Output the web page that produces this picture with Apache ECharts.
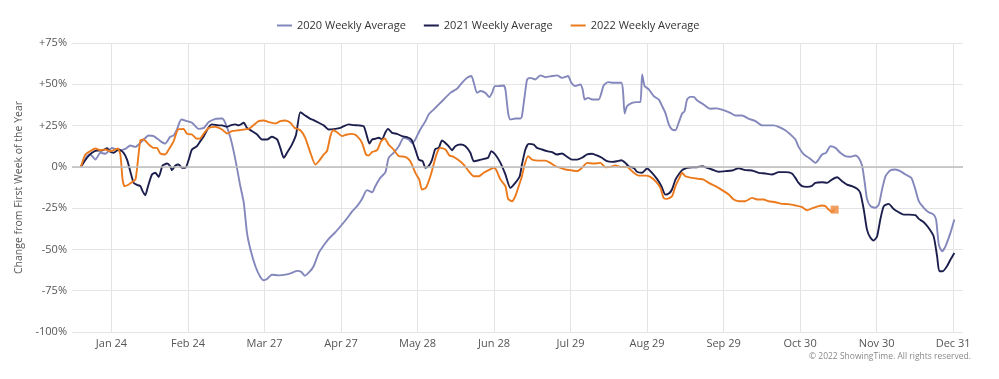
<!DOCTYPE html>
<html><head><meta charset="utf-8">
<script src="https://cdn.jsdelivr.net/npm/echarts@6/dist/echarts.min.js"></script>
<style>html,body{margin:0;padding:0;background:#fff}#c{width:999px;height:379px}</style>
</head><body><div id="c"></div>
<script>
const tickDays = [24,55,86,117,148,179,210,241,272,303,334,365];
const tickLabels = ['Jan 24','Feb 24','Mar 27','Apr 27','May 28','Jun 28','Jul 29','Aug 29','Sep 29','Oct 30','Nov 30','Dec 31'];
const seriesNames = ['2020 Weekly Average','2021 Weekly Average','2022 Weekly Average'];

const days2020 = [11.6,14.1,15.4,17.5,19.5,21.5,24.2,26.9,29.6,31.6,33.7,36.4,39.1,41.1,43.8,45.8,47.8,49.2,50.5,52.3,54.6,56.6,59.3,61.4,63.4,66.1,
68.8,70.1,72.2,74.2,76.2,77.6,78.9,80.3,82.3,84.3,85.7,87.0,89.0,91.7,95.1,97.1,99.2,100.9,102.3,104.2,105.9,108.0,110.0,112.0,114.7,117.4,119.4,121.5,123.5,125.5,127.5,
129.6,130.9,132.9,135.0,136.3,138.3,140.4,142.4,144.4,145.8,147.1,149.1,151.2,152.5,154.5,156.6,158.6,161.3,164.0,166.0,168.1,169.8,170.8,172.1,173.5,175.5,177.1,178.2,179.3,180.9,182.9,183.6,184.7,185.6,187.6,189.7,
190.3,191.4,192.4,193.7,195.7,197.8,199.8,202.5,204.5,206.5,209.0,210.3,211.9,214.0,214.9,215.7,217.1,218.7,221.4,222.5,223.4,225.2,227.5,230.6,231.3,231.9,232.9,234.9,236.9,238.3,239.0,240.0,241.7,243.7,245.7,247.1,248.4,249.8,
251.1,252.5,253.8,255.2,256.2,257.2,258.5,259.9,261.2,263.9,266.6,269.3,272.0,274.7,276.8,279.5,282.2,284.9,287.6,289.6,292.3,294.3,297.0,299.1,301.1,302.4,304.5,306.5,307.8,309.2,310.5,311.9,
313.5,315.3,317.3,319.3,321.3,323.4,325.4,326.7,328.1,329.2,330.1,331.5,333.5,334.9,336.2,337.6,339.6,341.6,343.6,345.7,348.1,349.7,351.1,353.1,355.1,357.1,358.1,359.2,360.5,361.9,363.9,365.5];
const vals2020 = [0,6.5,7.5,4.4,8.5,7.9,11.5,9.9,10.9,12.9,12.1,15.6,19.0,18.6,15.6,14.1,18.2,19.0,22.6,28.7,27.7,26.7,23.0,23.6,27.1,29.1,
29.3,26.7,17.6,4.4,-11.7,-21.8,-40.0,-50.1,-60.2,-66.7,-68.7,-67.9,-65.3,-65.7,-65.1,-64.2,-63.0,-63.6,-65.9,-63.6,-60.2,-52.1,-47.5,-43.6,-39.6,-34.9,-31.3,-26.9,-23.8,-19.4,-14.1,
-15.4,-11.7,-6.7,-3.2,5.5,8.5,12.5,17.6,16.6,14.5,16.6,22.6,27.7,31.7,34.7,37.8,40.8,44.8,47.3,50.9,53.9,55.0,50.9,44.8,45.9,44.8,42.2,44.8,48.9,48.9,49.3,46.9,32.7,28.7,29.3,29.3,
30.7,42.8,52.9,53.9,52.9,55.4,54.3,55.0,55.4,53.9,55.0,50.9,48.9,49.9,46.9,40.8,41.8,40.8,40.8,44.8,49.3,51.3,50.9,50.9,44.8,32.3,36.8,38.8,39.2,39.2,56.0,48.9,46.9,42.8,40.8,36.8,32.7,25.7,
22.6,22.2,26.7,32.3,33.7,40.8,42.4,42.4,40.4,37.8,35.2,35.4,34.3,32.7,31.1,31.1,29.1,27.7,25.1,25.1,25.1,24.2,22.2,19.6,16.6,12.1,7.5,5.5,4.0,2.4,4.4,7.5,
8.5,12.5,11.5,8.5,6.5,6.1,6.9,5.5,0.8,-9.7,-19.4,-23.8,-24.8,-22.8,-13.7,-5.7,-2.0,-1.6,-2.6,-4.6,-6.7,-13.7,-20.8,-24.8,-27.5,-28.9,-31.9,-47.1,-51.1,-48.1,-40.0,-31.9];

const days2021 = [11.6,14.1,16.1,18.1,20.2,22.2,23.5,24.9,26.9,28.9,30.3,31.6,33.0,34.3,35.7,36.6,37.7,38.8,40.4,41.8,43.1,44.7,46.5,47.8,48.5,49.9,51.2,52.6,53.9,55.3,56.6,58.6,60.0,61.4,63.4,64.7,67.4,
68.8,70.8,72.2,74.2,75.5,77.6,78.9,81.0,83.0,85.0,87.0,89.0,91.1,92.4,93.8,95.1,97.1,98.8,100.5,102.5,104.6,105.9,108.0,110.0,112.0,114.7,116.7,118.1,120.1,122.1,124.2,126.2,127.5,128.5,
129.6,130.9,132.3,133.6,135.0,136.0,137.7,139.7,141.7,143.7,145.5,147.1,148.5,150.1,151.2,152.5,153.9,155.2,156.6,157.9,159.3,160.6,162.0,163.3,165.4,167.4,169.4,170.8,172.8,174.8,176.6,177.9,179.5,181.6,183.6,185.6,187.6,189.4,
190.3,191.7,193.0,195.1,196.4,198.4,200.5,202.5,204.5,206.5,208.6,210.6,212.6,214.6,216.7,218.7,220.7,222.7,224.8,226.8,228.8,230.6,232.2,233.5,235.6,236.9,238.9,241.0,243.0,245.0,246.8,248.4,249.8,
251.1,252.5,253.8,255.2,256.2,257.2,259.2,261.2,263.3,265.3,267.3,270.0,272.7,275.4,278.1,280.8,283.5,286.2,288.9,291.6,294.3,297.0,299.7,301.1,302.4,303.8,305.8,307.6,309.2,311.9,
313.9,315.9,318.0,320.0,322.0,324.0,326.1,327.4,328.8,330.1,331.5,332.8,334.2,335.5,336.9,338.9,340.9,343.0,345.0,347.0,349.7,351.1,353.1,355.1,357.1,358.5,359.4,360.8,362.5,363.9,365.5];
const vals2021 = [0,5.5,8.5,9.9,9.9,11.3,9.1,8.5,10.5,8.5,4.4,-2.6,-9.7,-10.9,-11.7,-14.7,-17.2,-11.7,-4.6,-3.6,-6.1,0.8,2.0,0.4,-2.0,0.8,1.4,-0.6,-0.6,4.4,10.5,12.5,15.6,18.6,24.0,25.7,25.1,
25.1,24.2,25.1,25.7,25.1,26.7,23.6,21.6,19.6,16.6,16.6,18.2,16.6,11.5,5.5,8.5,13.5,19.6,33.1,31.1,29.1,28.3,26.7,25.1,22.6,23.0,23.6,24.6,25.7,25.3,25.1,24.6,18.6,14.1,
16.6,17.0,17.6,16.6,21.0,23.0,20.6,20.0,18.6,18.0,16.6,10.5,4.4,3.4,-0.6,0.4,4.4,10.9,11.5,16.0,14.5,12.5,10.1,12.5,13.5,12.5,8.5,3.4,4.0,4.8,5.5,9.5,7.5,2.4,-4.6,-12.7,-9.7,-5.7,
1.4,10.5,13.9,13.5,11.5,10.5,9.5,8.9,7.5,8.1,6.1,4.4,4.4,5.5,7.5,7.9,6.9,5.5,3.4,3.0,3.4,4.0,2.4,0.4,-0.6,-3.0,-3.6,-1.0,-3.6,-7.3,-11.7,-16.8,-16.2,
-13.7,-7.7,-4.6,-2.0,-1.2,-0.6,-0.2,-0.2,0.4,-0.6,-1.6,-3.0,-2.6,-2.2,-0.8,-2.0,-2.2,-3.6,-4.0,-4.6,-3.2,-3.2,-4.0,-6.7,-9.7,-11.7,-12.1,-11.7,-9.7,-9.3,
-9.7,-7.7,-6.3,-8.7,-10.7,-11.7,-13.3,-15.8,-25.9,-38.0,-43.0,-44.6,-42.0,-31.9,-23.8,-22.4,-25.5,-27.5,-28.9,-28.9,-29.3,-31.5,-33.5,-37.0,-42.0,-54.1,-63.2,-63.2,-60.2,-56.2,-52.1];

const days2022 = [11.6,13.4,15.4,17.5,19.5,21.5,23.5,25.6,26.6,27.6,28.5,29.3,31.0,32.3,33.7,34.6,35.7,37.0,39.1,41.1,42.4,43.8,45.8,47.2,49.2,50.9,53.2,54.6,56.6,58.6,60.0,61.4,63.4,66.1,
68.8,70.8,72.8,75.5,77.6,79.6,81.6,83.6,85.7,87.7,90.4,92.4,94.4,96.5,98.2,100.5,102.5,104.6,106.6,108.0,110.0,111.3,112.7,113.8,115.4,117.4,119.4,121.5,123.5,125.5,127.1,128.2,
129.6,131.6,133.3,134.7,136.3,138.3,140.4,143.1,145.1,147.1,148.7,149.8,151.4,153.2,154.5,155.9,157.2,159.3,160.9,162.6,164.7,166.7,168.7,170.8,172.8,174.8,176.8,178.9,179.8,181.6,183.6,184.7,186.3,187.6,189.0,
190.3,191.4,192.8,194.4,197.1,199.8,201.8,203.8,205.9,207.9,209.9,212.6,214.6,216.7,219.4,222.1,224.1,226.1,228.1,230.2,232.9,234.2,235.6,237.6,240.3,242.3,244.4,246.4,247.7,249.1,
251.1,252.5,254.1,255.2,256.5,259.2,261.9,263.9,266.0,268.7,271.4,274.1,276.1,278.1,280.8,283.5,285.6,288.2,290.3,293.0,295.7,298.4,301.1,303.8,305.8,307.8,310.5,311.9,
313.2,314.6,315.9,317.0];
const vals2022 = [0,7.5,9.5,11.1,10.1,10.5,9.5,10.5,11.1,7.5,-7.7,-11.7,-10.7,-9.3,-7.7,2.4,16.0,16.6,13.5,11.5,11.5,8.1,7.5,10.5,15.6,22.6,23.0,20.0,19.6,17.0,17.2,20.2,23.6,24.2,
22.6,20.2,21.6,22.2,22.6,23.0,25.3,27.7,28.1,27.1,26.3,27.7,28.1,26.7,23.6,22.2,17.6,8.5,1.4,3.4,7.5,9.5,18.6,22.2,21.0,18.6,19.6,20.0,18.6,14.5,7.5,6.9,
9.0,10.1,15.6,17.2,13.5,10.5,6.5,6.1,3.4,-3.6,-7.7,-13.7,-12.7,-5.7,1.4,8.5,11.5,10.5,6.9,6.1,4.0,1.4,-2.6,-5.7,-5.7,-3.6,-2.0,-0.6,-1.6,-7.7,-11.7,-19.4,-20.8,-17.8,-11.7,
-5.7,1.4,6.5,4.4,3.8,3.8,2.4,0.4,-0.6,-1.6,-2.0,-2.6,-0.6,2.4,2.0,2.4,-0.2,0.0,0.8,0.0,0.0,-1.6,-3.6,-5.3,-5.3,-6.1,-8.7,-12.7,-18.8,-19.4,
-17.8,-11.7,-6.7,-3.6,-5.7,-6.7,-7.3,-7.7,-9.7,-11.7,-14.1,-16.8,-19.8,-20.8,-20.8,-18.8,-19.8,-19.8,-20.8,-21.4,-22.4,-22.6,-23.4,-24.4,-26.3,-25.1,-23.8,-23.4,
-23.8,-25.9,-27.3,-25.9];

const colors = ['#8487bb', '#1c1f4d', '#ec7a1c'];
const zip = (d, v) => d.map((x, i) => [x, v[i]]);
const FONT = '"Open Sans", "Noto Sans", sans-serif';

const chart = echarts.init(document.getElementById('c'), null, {renderer: 'canvas'});
chart.setOption({
  animation: false,
  textStyle: {fontFamily: FONT},
  legend: {
    data: seriesNames, top: 15, left: 272, itemGap: 18,
    icon: 'rect', itemWidth: 15, itemHeight: 2,
    textStyle: {fontSize: 11, color: '#333', fontFamily: FONT}
  },
  grid: {left: 72, right: 36, top: 43, bottom: 47, containLabel: false},
  xAxis: {
    type: 'value', min: 8, max: 369,
    axisLine: {show: false},
    axisTick: {show: true, length: 4, customValues: tickDays, lineStyle: {color: '#e4e4e4'}},
    axisLabel: {customValues: tickDays, margin: 6, fontSize: 11, color: '#555', fontFamily: FONT,
      formatter: v => tickLabels[tickDays.indexOf(Math.round(v))] || ''},
    splitLine: {show: true, lineStyle: {color: '#e4e4e4', width: 1}}
  },
  yAxis: {
    type: 'value', min: -100, max: 75, interval: 25,
    name: 'Change from First Week of the Year', nameLocation: 'middle', nameGap: 44,
    nameTextStyle: {fontSize: 10.5, color: '#555', fontFamily: FONT},
    axisLine: {show: false}, axisTick: {show: false},
    axisLabel: {margin: 5, fontSize: 11, color: '#555', fontFamily: FONT,
      formatter: v => (v > 0 ? '+' : '') + v + '%'},
    splitLine: {lineStyle: {color: '#e4e4e4', width: 1}}
  },
  series: [
    {name: seriesNames[0], type: 'line', data: zip(days2020, vals2020), symbol: 'none', smooth: 0.2,
     lineStyle: {color: colors[0], width: 1.9}, itemStyle: {color: colors[0]},
     markLine: {silent: true, symbol: 'none', label: {show: false}, lineStyle: {color: '#bcbcbc', width: 1.5, type: 'solid'}, data: [{yAxis: 0}]},
     z: 2},
    {name: seriesNames[1], type: 'line', data: zip(days2021, vals2021), symbol: 'none', smooth: 0.2,
     lineStyle: {color: colors[1], width: 1.9}, itemStyle: {color: colors[1]}, z: 3},
    {name: seriesNames[2], type: 'line', data: zip(days2022, vals2022), symbol: 'none', smooth: 0.2,
     lineStyle: {color: colors[2], width: 1.9}, itemStyle: {color: colors[2]}, z: 4},
    {name: 'end2022', type: 'scatter', symbol: 'rect', symbolSize: 8,
     data: [[days2022[days2022.length - 1], vals2022[vals2022.length - 1]]],
     itemStyle: {color: '#ee8a3c'}, z: 5}
  ],
  graphic: [{
    type: 'text', right: 28, top: 352,
    style: {text: '© 2022 ShowingTime. All rights reserved.', fill: '#8a8a8a', font: '8.5px ' + FONT}
  }]
});
</script></body></html>
